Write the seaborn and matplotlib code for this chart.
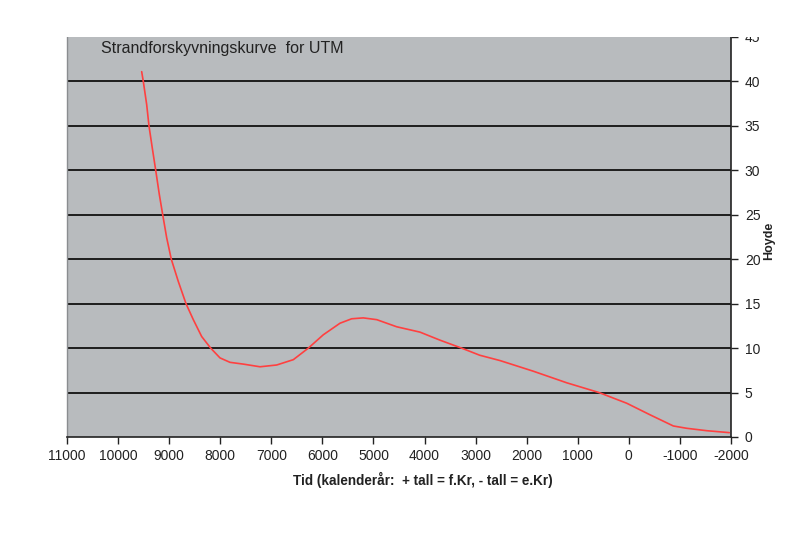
import matplotlib
matplotlib.use("Agg")
import matplotlib.pyplot as plt
from matplotlib.patches import Rectangle
import seaborn as sns
import pandas as pd

years = [9538, 9506, 9440, 9395, 9330, 9263, 9193, 9126, 9048, 8958, 8821,
         8670, 8527, 8363, 8187, 8005, 7809, 7548, 7221, 6895, 6569, 6275,
         5982, 5655, 5426, 5200, 4935, 4545, 4090, 3700, 3275, 2920, 2523,
         1870, 1217, 584, 42, -414, -871, -1132, -1524, -1967]
height = [41.1, 40.0, 37.4, 35.0, 32.5, 30.0, 27.3, 25.0, 22.4, 20.0, 17.5,
          15.0, 13.2, 11.3, 10.0, 8.9, 8.4, 8.2, 7.9, 8.1, 8.7, 10.0,
          11.5, 12.8, 13.3, 13.4, 13.2, 12.4, 11.8, 10.9, 10.0, 9.2, 8.6,
          7.4, 6.1, 5.0, 3.8, 2.5, 1.24, 0.98, 0.71, 0.49]
xticks = list(range(11000, -2001, -1000))
yticks = list(range(0, 46, 5))

title = "Strandforskyvningskurve  for UTM"
xlabel = "Tid (kalenderår:  + tall = f.Kr, - tall = e.Kr)"
ylabel = "Hoyde"

sns.set_style("white")
plt.rcParams['font.family'] = ['Liberation Sans', 'DejaVu Sans']

W, H = 785, 555
fig = plt.figure(figsize=(W / 100, H / 100), dpi=100)
ax = fig.add_axes([67 / W, 1 - 437 / H, (731 - 67) / W, (437 - 37) / H])
ax.set_facecolor('#b8bbbe')

df = pd.DataFrame({'year': years, 'height': height})
sns.lineplot(data=df, x='year', y='height', ax=ax, color='#ff4040',
             linewidth=1.2, zorder=3)

ax.set_xlim(11000, -2000)
ax.set_ylim(0, 45)
ax.set_xticks(xticks)
ax.set_xticklabels([str(t) for t in xticks], fontsize=10, color='#222222')
ax.yaxis.tick_right()
ax.set_yticks(yticks)
ax.set_yticklabels([str(t) for t in yticks], fontsize=10, color='#222222')
ax.tick_params(axis='x', direction='out', length=5, width=1, color='#222222',
               bottom=True, pad=4)
ax.tick_params(axis='y', direction='out', length=5, width=1, color='#222222',
               right=True, left=False, pad=5)
ax.yaxis.grid(True, color='#111111', linewidth=1.3)
ax.xaxis.grid(False)
gl = ax.yaxis.get_gridlines()
gl[0].set_visible(False)
gl[-1].set_visible(False)
ax.set_xlabel('')
ax.set_ylabel('')

ax.spines['top'].set_visible(False)
ax.spines['left'].set_color('#8a8d90')
ax.spines['left'].set_linewidth(1)
ax.spines['bottom'].set_color('#222222')
ax.spines['bottom'].set_linewidth(1.2)
ax.spines['right'].set_color('#222222')
ax.spines['right'].set_linewidth(1.2)

ax.text(101 / W, 1 - 48 / H, title, transform=fig.transFigure,
        fontsize=11.5, color='#222222', ha='left', va='center')
fig.text(423 / W, 1 - 480 / H, xlabel, fontsize=9.75, fontweight='bold',
         color='#222222', ha='center', va='center')
fig.text(769 / W, 1 - 241 / H, ylabel, fontsize=9, fontweight='bold',
         color='#222222', ha='center', va='center', rotation=90)

fig.add_artist(Rectangle((0, 1 - 37 / H), 1, 37 / H, transform=fig.transFigure,
                         facecolor='white', edgecolor='none', zorder=20))

fig.savefig('out.png', dpi=100, facecolor='white')
